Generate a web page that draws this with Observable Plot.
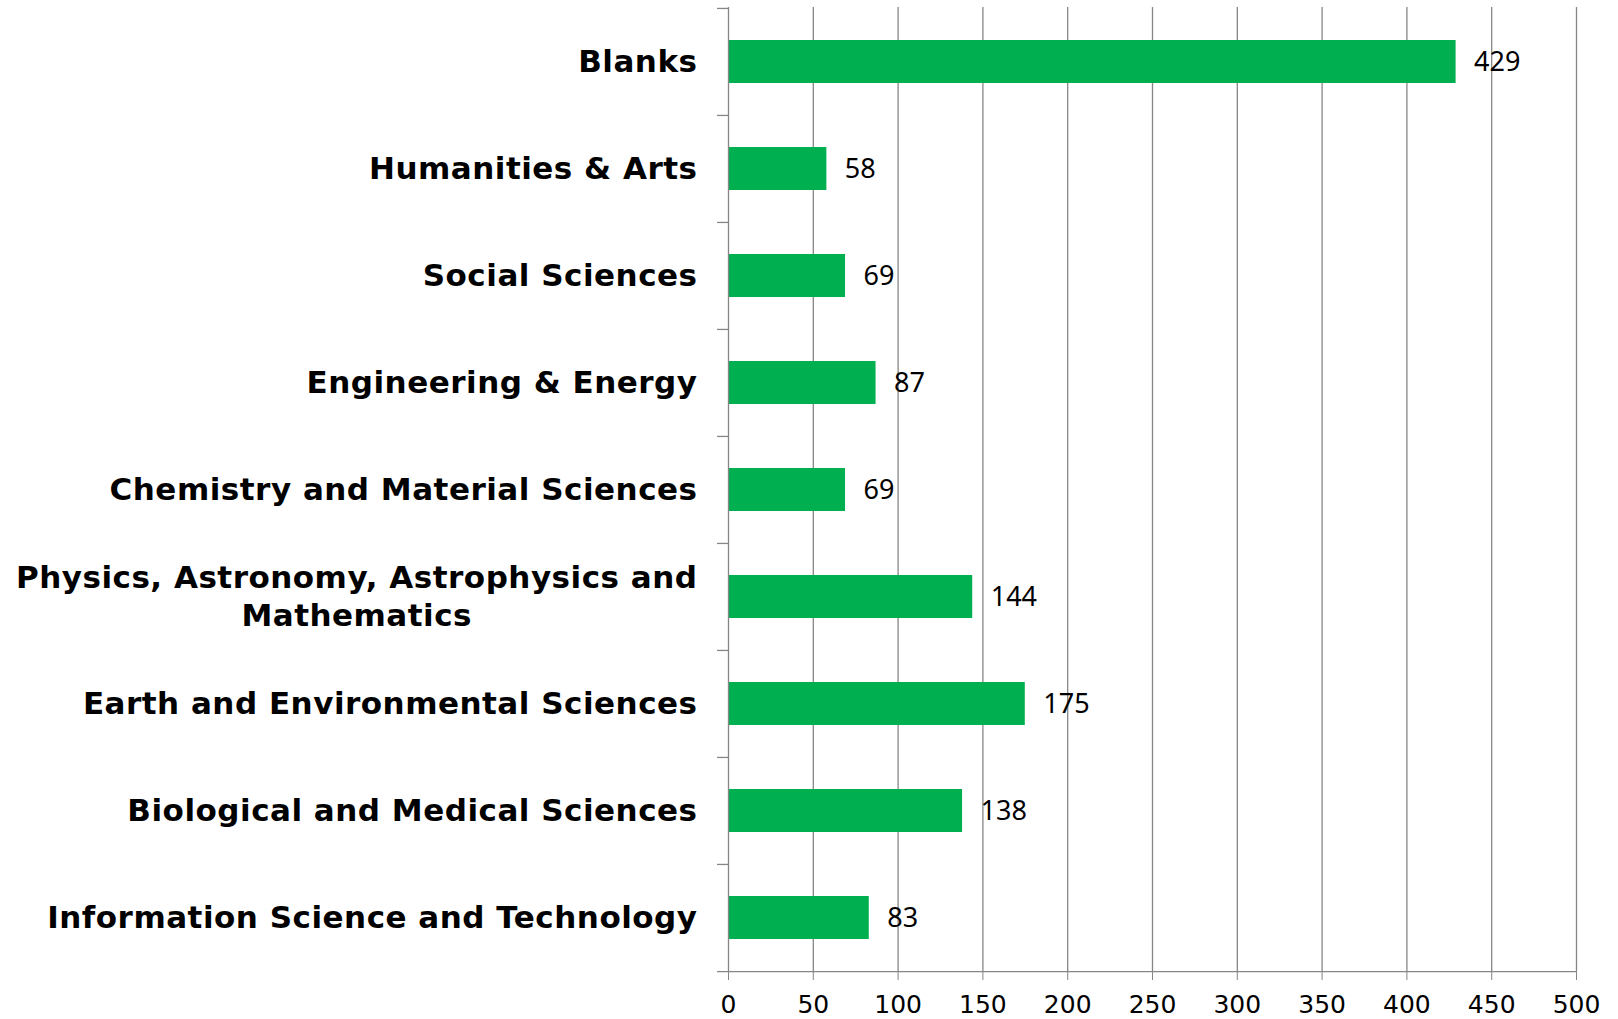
<!DOCTYPE html>
<html>
<head>
<meta charset="utf-8">
<script src="https://cdn.jsdelivr.net/npm/d3@7"></script>
<script src="https://cdn.jsdelivr.net/npm/@observablehq/plot@0.6"></script>
<style>
  html, body { margin: 0; padding: 0; background: #fff; }
  #chart svg { display: block; }
</style>
</head>
<body>
<div id="chart"></div>
<script>
const categories = [
  "Blanks",
  "Humanities & Arts",
  "Social Sciences",
  "Engineering & Energy",
  "Chemistry and Material Sciences",
  "Physics, Astronomy, Astrophysics and\nMathematics",
  "Earth and Environmental Sciences",
  "Biological and Medical Sciences",
  "Information Science and Technology"
];
const values = [429, 58, 69, 87, 69, 144, 175, 138, 83];
const xTicks = [0, 50, 100, 150, 200, 250, 300, 350, 400, 450, 500];

const data = categories.map((c, i) => ({category: c, value: values[i]}));

const W = 1618, H = 1019;
const mt = 7, mb = 48, ml = 728, mr = 42;
const step = (H - mt - mb) / categories.length;
const grey = "#868686";

const plot = Plot.plot({
  width: W,
  height: H,
  marginTop: mt,
  marginBottom: mb,
  marginLeft: ml,
  marginRight: mr,
  style: {fontFamily: "DejaVu Sans, Verdana, sans-serif", background: "#fff", color: "#000"},
  x: {domain: [0, 500]},
  y: {domain: categories, paddingInner: 0.6, paddingOuter: 0.3},
  marks: [
    Plot.ruleX(xTicks.filter(d => d > 0), {stroke: grey, strokeWidth: 1.3, strokeOpacity: 1}),
    Plot.barX(data, {x: "value", y: "category", fill: "#00B050"}),
    Plot.ruleX([0], {stroke: grey, strokeWidth: 1.3}),
    Plot.ruleY(categories, {y: d => d, x1: 0, x2: 0, insetLeft: -11, dy: -step / 2, stroke: grey, strokeWidth: 1.3}),
    Plot.ruleY(categories.slice(-1), {y: d => d, x1: 0, x2: 500, insetLeft: -11, dy: step / 2, stroke: grey, strokeWidth: 1.3}),
    Plot.text(data, {x: "value", y: "category", text: d => String(d.value), textAnchor: "start", dx: 18, fontSize: 27, fontFamily: "Noto Sans, sans-serif", fill: "#000"}),
    Plot.axisX({ticks: xTicks, tickSize: 9, tickPadding: 15, fontSize: 25, stroke: grey, tickFormat: d => String(d), label: null}),
    Plot.axisY({tickSize: 0, tickPadding: 31, fontSize: 31, fontWeight: "bold", lineHeight: 1.22, dy: -2, label: null, textAnchor: "end"})
  ]
});
document.getElementById("chart").appendChild(plot);

// Excel-style: multi-line category labels are centred within their block; slightly wider bold face
d3.select(plot).selectAll('g[aria-label="y-axis tick label"] text')
  .style("letter-spacing", "0.5px")
  .each(function() {
    const tspans = d3.select(this).selectAll("tspan");
    if (tspans.size() > 1) {
      let w = 0;
      tspans.each(function() { w = Math.max(w, this.getComputedTextLength()); });
      d3.select(this).attr("text-anchor", "middle");
      tspans.attr("x", -w / 2);
    }
  });
</script>
</body>
</html>
